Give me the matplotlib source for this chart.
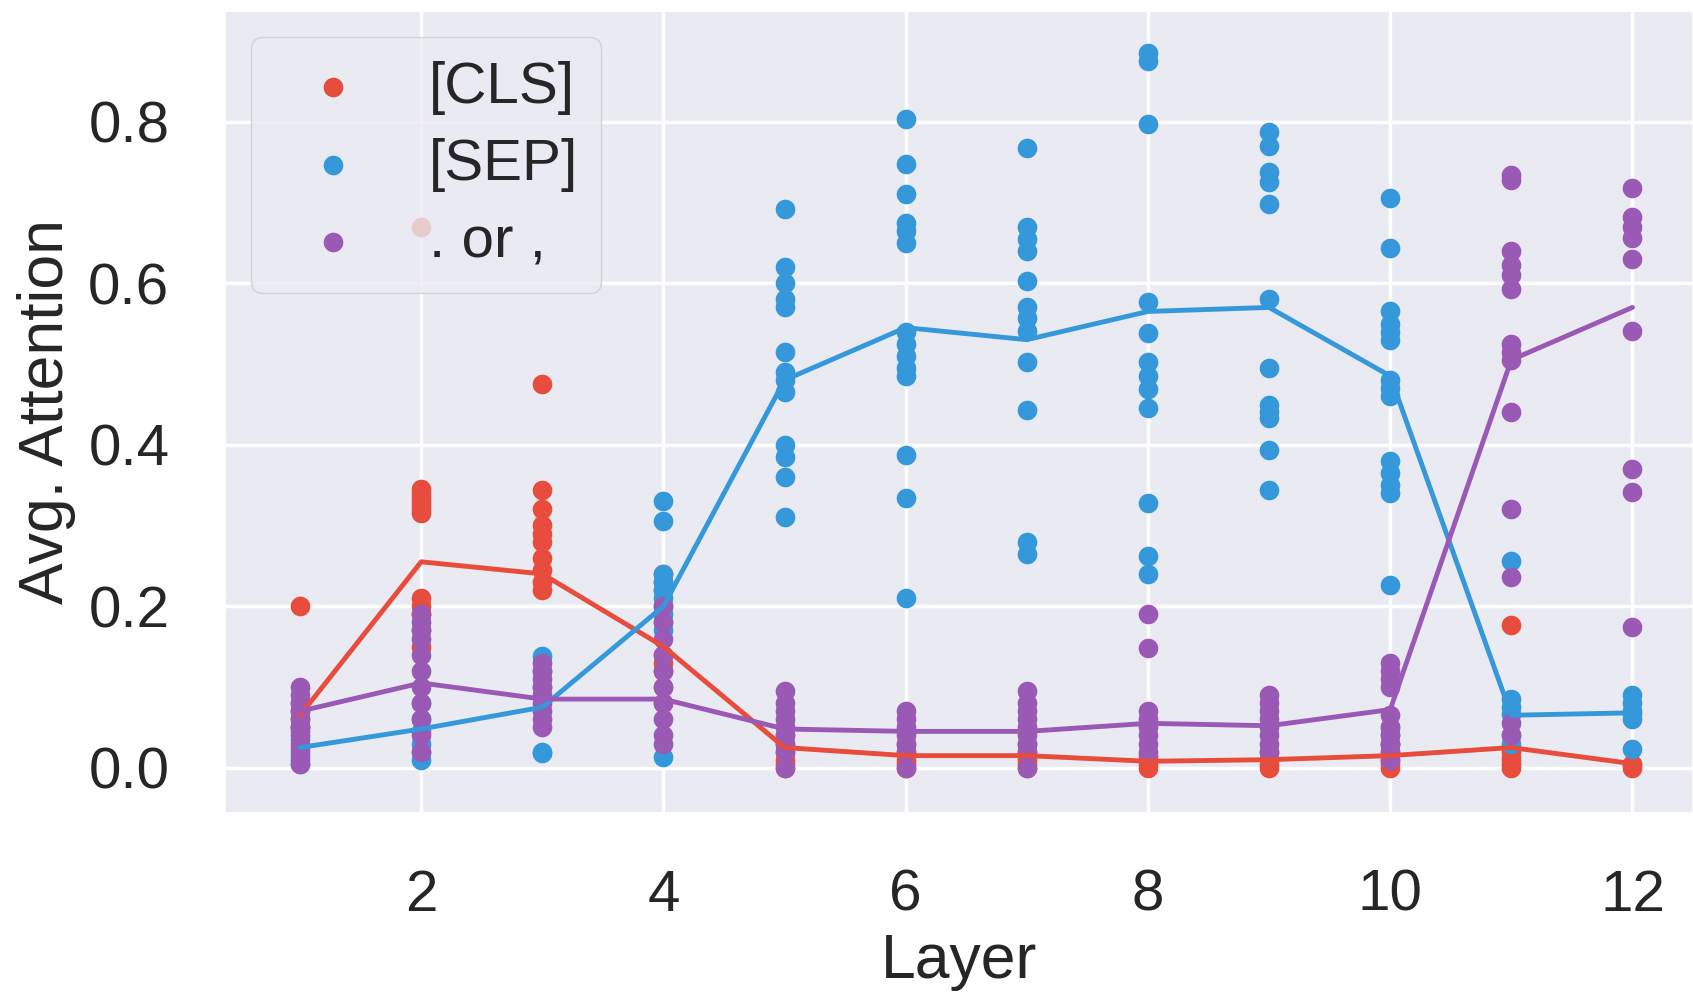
import matplotlib
matplotlib.use("Agg")
import matplotlib.pyplot as plt
import seaborn as sns

sns.set_theme(style="darkgrid")
plt.rcParams['font.family'] = ['Liberation Sans', 'DejaVu Sans']

layers = list(range(1, 13))

cls_points = [
    [0.20, 0.08, 0.07, 0.06, 0.05, 0.05],
    [0.67, 0.345, 0.34, 0.335, 0.33, 0.325, 0.32, 0.315, 0.21, 0.20, 0.19, 0.17, 0.15],
    [0.475, 0.344, 0.32, 0.30, 0.29, 0.28, 0.26, 0.245, 0.23, 0.22],
    [0.24, 0.23, 0.22, 0.14, 0.13, 0.12, 0.10, 0.08],
    [0.0, 0.005, 0.01, 0.02, 0.03, 0.04],
    [0.0, 0.005, 0.01, 0.02, 0.03],
    [0.0, 0.005, 0.01, 0.02, 0.03],
    [0.0, 0.005, 0.01, 0.015],
    [0.0, 0.005, 0.01, 0.02],
    [0.0, 0.005, 0.01, 0.02, 0.03],
    [0.177, 0.0, 0.005, 0.01, 0.013, 0.02],
    [0.0, 0.003, 0.005],
]
sep_points = [
    [0.005, 0.015, 0.025, 0.035, 0.045],
    [0.01, 0.02, 0.03, 0.045, 0.06, 0.08],
    [0.138, 0.12, 0.10, 0.02, 0.018],
    [0.33, 0.305, 0.24, 0.23, 0.22, 0.21, 0.20, 0.19, 0.18, 0.17, 0.013],
    [0.692, 0.62, 0.60, 0.58, 0.57, 0.515, 0.49, 0.48, 0.465, 0.40, 0.385, 0.36, 0.311],
    [0.803, 0.748, 0.71, 0.675, 0.665, 0.65, 0.54, 0.525, 0.51, 0.495, 0.485, 0.387, 0.334, 0.21],
    [0.767, 0.669, 0.655, 0.64, 0.603, 0.57, 0.557, 0.541, 0.502, 0.443, 0.28, 0.265],
    [0.885, 0.875, 0.797, 0.577, 0.538, 0.502, 0.485, 0.469, 0.446, 0.328, 0.262, 0.24],
    [0.787, 0.77, 0.738, 0.725, 0.698, 0.58, 0.495, 0.449, 0.44, 0.433, 0.393, 0.344],
    [0.705, 0.643, 0.565, 0.55, 0.54, 0.53, 0.48, 0.47, 0.46, 0.38, 0.365, 0.35, 0.34, 0.226, 0.05, 0.04, 0.03],
    [0.256, 0.085, 0.075, 0.066, 0.04, 0.03],
    [0.09, 0.08, 0.07, 0.066, 0.06, 0.023],
]
punct_points = [
    [0.005, 0.01, 0.02, 0.03, 0.04, 0.05, 0.06, 0.07, 0.08, 0.09, 0.10],
    [0.02, 0.04, 0.06, 0.08, 0.10, 0.12, 0.14, 0.16, 0.17, 0.18, 0.19],
    [0.05, 0.06, 0.07, 0.08, 0.09, 0.10, 0.11, 0.12, 0.13],
    [0.03, 0.04, 0.06, 0.08, 0.10, 0.12, 0.14, 0.16, 0.18, 0.20],
    [0.0, 0.02, 0.03, 0.04, 0.05, 0.06, 0.07, 0.08, 0.095],
    [0.0, 0.02, 0.03, 0.04, 0.05, 0.06, 0.07],
    [0.0, 0.02, 0.03, 0.04, 0.05, 0.06, 0.07, 0.08, 0.095],
    [0.19, 0.148, 0.07, 0.06, 0.05, 0.04, 0.03, 0.02],
    [0.09, 0.08, 0.07, 0.06, 0.05, 0.04, 0.03, 0.02],
    [0.13, 0.12, 0.11, 0.10, 0.065, 0.05, 0.04, 0.03, 0.02, 0.01],
    [0.734, 0.728, 0.64, 0.623, 0.61, 0.593, 0.525, 0.515, 0.505, 0.44, 0.321, 0.236, 0.056, 0.04],
    [0.718, 0.682, 0.67, 0.656, 0.63, 0.541, 0.37, 0.341, 0.174],
]

cls_mean = [0.065, 0.255, 0.24, 0.15, 0.025, 0.015, 0.015, 0.008, 0.01, 0.015, 0.025, 0.005]
sep_mean = [0.025, 0.048, 0.075, 0.20, 0.48, 0.545, 0.53, 0.565, 0.57, 0.485, 0.065, 0.068]
punct_mean = [0.07, 0.105, 0.085, 0.085, 0.048, 0.045, 0.045, 0.055, 0.052, 0.072, 0.505, 0.57]

labels = ["[CLS]", "[SEP]", ". or ,"]
colors = ["#e74c3c", "#3498db", "#9b59b6"]

fig = plt.figure(figsize=(16.93, 9.93), dpi=100)
ax = fig.add_axes([0.1329, 0.1813, 0.8671, 0.8076])

all_points = [cls_points, sep_points, punct_points]
all_means = [cls_mean, sep_mean, punct_mean]

for pts, col, lab in zip(all_points, colors, labels):
    xs, ys = [], []
    for L, vals in zip(layers, pts):
        xs += [L] * len(vals)
        ys += vals
    ax.scatter(xs, ys, s=200, color=col, label=lab, linewidths=0, zorder=2)

for means, col in zip(all_means, colors):
    ax.plot(layers, means, color=col, lw=3.5, zorder=3)

ax.set_xlim(0.38, 12.5)
ax.set_ylim(-0.056, 0.937)
ax.set_xticks([2, 4, 6, 8, 10, 12])
ax.set_yticks([0.0, 0.2, 0.4, 0.6, 0.8])
ax.set_yticklabels(["0.0", "0.2", "0.4", "0.6", "0.8"])
ax.grid(True, color="white", lw=2.5)
ax.tick_params(axis='both', labelsize=42, colors='.15', length=0)
ax.tick_params(axis='y', pad=40)
ax.tick_params(axis='x', pad=40)
ax.set_xlabel("Layer", fontsize=45, color='.15', labelpad=7)
ax.set_ylabel("Avg. Attention", fontsize=45, color='.15', labelpad=9)

leg = ax.legend(loc="upper left", fontsize=42, scatterpoints=1, handletextpad=0.64,
                labelspacing=0.4, borderaxespad=0.45, framealpha=0.8,
                borderpad=0.4, handlelength=2.0)
for t in leg.get_texts():
    t.set_color('.15')

fig.savefig("out.png", dpi=100)
